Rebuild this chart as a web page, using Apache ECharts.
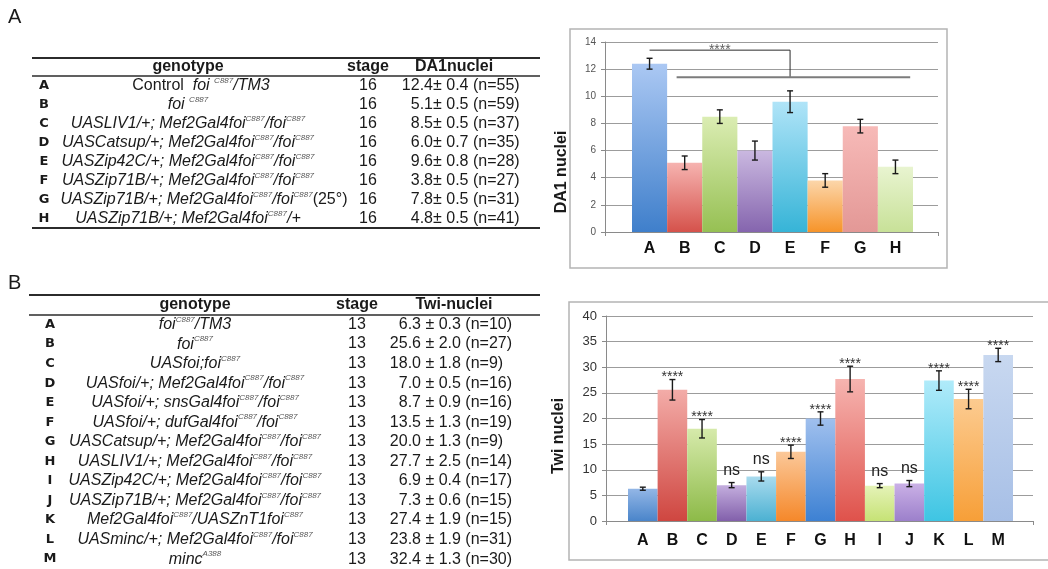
<!DOCTYPE html>
<html>
<head>
<meta charset="utf-8">
<script src="https://cdn.jsdelivr.net/npm/echarts@6/dist/echarts.min.js"></script>
<style>
html, body { margin: 0; padding: 0; background: #fff; }
#main { width: 1048px; height: 569px; }
</style>
</head>
<body>
<div id="main"></div>
<script>
// ---- panel A data ----
var lettersA = ['A', 'B', 'C', 'D', 'E', 'F', 'G', 'H'];
var genotypesA = [
  '~Control~  foi ^C887^/TM3',
  'foi ^C887^',
  'UASLIV1/+; Mef2Gal4foi^C887^/foi^C887^',
  'UASCatsup/+; Mef2Gal4foi^C887^/foi^C887^',
  'UASZip42C/+; Mef2Gal4foi^C887^/foi^C887^',
  'UASZip71B/+; Mef2Gal4foi^C887^/foi^C887^',
  'UASZip71B/+; Mef2Gal4foi^C887^/foi^C887^~(25°)~',
  'UASZip71B/+; Mef2Gal4foi^C887^/+'
];
var stageA = '16';
var meanA = [12.4, 5.1, 8.5, 6.0, 9.6, 3.8, 7.8, 4.8];
var semA = [0.4, 0.5, 0.5, 0.7, 0.8, 0.5, 0.5, 0.5];
var nA = [55, 59, 37, 35, 28, 27, 31, 41];
var bracketTopA = [[0, 13.4], [4, 13.4], [4, 11.4]];
var bracketLowA = [[0.77, 11.4], [7.42, 11.4]];
var starsA = [[2, 13.4]];

// ---- panel B data ----
var lettersB = ['A', 'B', 'C', 'D', 'E', 'F', 'G', 'H', 'I', 'J', 'K', 'L', 'M'];
var genotypesB = [
  'foi^C887^/TM3',
  'foi^C887^',
  'UASfoi;foi^C887^',
  'UASfoi/+; Mef2Gal4foi^C887^/foi^C887^',
  'UASfoi/+; snsGal4foi^C887^/foi^C887^',
  'UASfoi/+; dufGal4foi^C887^/foi^C887^',
  'UASCatsup/+; Mef2Gal4foi^C887^/foi^C887^',
  'UASLIV1/+; Mef2Gal4foi^C887^/foi^C887^',
  'UASZip42C/+; Mef2Gal4foi^C887^/foi^C887^',
  'UASZip71B/+; Mef2Gal4foi^C887^/foi^C887^',
  'Mef2Gal4foi^C887^/UASZnT1foi^C887^',
  'UASminc/+; Mef2Gal4foi^C887^/foi^C887^',
  'minc^A388^'
];
var stageB = '13';
var meanB = [6.3, 25.6, 18.0, 7.0, 8.7, 13.5, 20.0, 27.7, 6.9, 7.3, 27.4, 23.8, 32.4];
var semB = [0.3, 2.0, 1.8, 0.5, 0.9, 1.3, 1.3, 2.5, 0.4, 0.6, 1.9, 1.9, 1.3];
var nB = [10, 27, 9, 16, 16, 19, 9, 14, 17, 15, 15, 31, 30];
var sigB = ['', '****', '****', 'ns', 'ns', '****', '****', '****', 'ns', 'ns', '****', '****', '****'];

// bar colours (top, bottom of gradient)
var colorsA = [
  ['#abc8f3', '#3f7fcb'], ['#f6b3b0', '#d5524b'], ['#dbedb3', '#96c053'], ['#cab8e0', '#8565ae'],
  ['#b0e4f8', '#36b4d7'], ['#fcd6aa', '#f6942a'], ['#f7bab8', '#e39896'], ['#e8f4d0', '#c8e198']
];
var colorsB = [
  ['#93b6e6', '#4a85ca'], ['#f3aca8', '#cf4640'], ['#d6eaab', '#8dba48'], ['#c4aede', '#8260ab'],
  ['#a9dbee', '#4cb1d2'], ['#fbc899', '#f5882a'], ['#a0c0ee', '#3d81d3'], ['#f6b4b0', '#df524b'],
  ['#e5f3b8', '#c6e275'], ['#cab0e6', '#9c80cb'], ['#b0ebfa', '#3ec5e3'], ['#fccb90', '#f79f38'],
  ['#c8d8f0', '#a7bfe6']
];

var FONT = '"Liberation Sans", Arial, Helvetica, sans-serif';

function grad(c) {
  return new echarts.graphic.LinearGradient(0, 0, 0, 1, [
    { offset: 0, color: c[0] }, { offset: 1, color: c[1] }
  ]);
}

// ^..^ superscript, ~..~ upright, rest italic
function richText(s) {
  return s.split(/(\^[^\^]*\^|~[^~]*~)/).filter(function (p) { return p; }).map(function (p) {
    if (p[0] === '^') return '{s|' + p.slice(1, -1) + '}';
    if (p[0] === '~') return '{n|' + p.slice(1, -1) + '}';
    return '{i|' + p + '}';
  }).join('');
}
var richStyles = {
  i: { fontFamily: FONT, fontSize: 16, fontStyle: 'italic', fill: '#1a1a1a', lineHeight: 18 },
  n: { fontFamily: FONT, fontSize: 16, fill: '#1a1a1a', lineHeight: 18 },
  s: { fontFamily: FONT, fontSize: 8, fontStyle: 'italic', fill: '#555', lineHeight: 10, verticalAlign: 'top' }
};

function txt(x, y, text, font, align, extra) {
  var el = { type: 'text', x: x, y: y, silent: true,
    style: { text: text, font: font, fill: '#1a1a1a', align: align || 'center', verticalAlign: 'middle' } };
  if (extra) for (var k in extra) el[k] = extra[k];
  return el;
}

function table(t) {
  var els = [];
  t.lines.forEach(function (l) {
    els.push({ type: 'line', silent: true, shape: { x1: t.x1, y1: l[0], x2: t.x2, y2: l[0] },
      style: { stroke: '#2b2b2b', lineWidth: l[1] } });
  });
  els.push(txt(t.genoX, t.headY, 'genotype', 'bold 16px ' + FONT));
  els.push(txt(t.stageX, t.headY, 'stage', 'bold 16px ' + FONT));
  els.push(txt(t.valHeadX, t.headY, t.valHead, 'bold 16px ' + FONT));
  t.letters.forEach(function (L, i) {
    var y = t.rowY + i * t.rowStep;
    els.push(txt(t.letterX, y, L, 'bold 13px "DejaVu Sans", Verdana, sans-serif'));
    els.push({ type: 'text', x: t.genoX + (t.genoShift ? t.genoShift[i] : 0), y: y, silent: true,
      style: { text: richText(t.geno[i]), rich: richStyles, align: 'center', verticalAlign: 'middle' } });
    els.push(txt(t.stageX, y, t.stage, '16px ' + FONT));
    els.push(txt(t.meanX, y, t.mean[i].toFixed(1), '16px ' + FONT, 'right'));
    els.push(txt(t.meanX, y, t.pm + t.sem[i].toFixed(1) + ' (n=' + t.n[i] + ')', '16px ' + FONT, 'left'));
  });
  return els;
}

function errRender(sigs) {
  return function (params, api) {
    var x = api.value(0), m = api.value(1), e = api.value(2);
    var hi = api.coord([x, m + e]), lo = api.coord([x, m - e]);
    var c = 3, st = { stroke: '#1a1a1a', lineWidth: 1.4 };
    var kids = [
      { type: 'line', shape: { x1: hi[0], y1: hi[1], x2: lo[0], y2: lo[1] }, style: st },
      { type: 'line', shape: { x1: hi[0] - c, y1: hi[1], x2: hi[0] + c, y2: hi[1] }, style: st },
      { type: 'line', shape: { x1: lo[0] - c, y1: lo[1], x2: lo[0] + c, y2: lo[1] }, style: st }
    ];
    var s = sigs ? sigs[params.dataIndex] : '';
    if (s === 'ns') {
      kids.push({ type: 'text', style: { text: s, x: hi[0], y: hi[1] - 12, align: 'center', verticalAlign: 'middle',
        fontSize: 16, fontFamily: FONT, fill: '#222' } });
    } else if (s) {
      kids.push({ type: 'text', style: { text: s, x: hi[0], y: hi[1] - 2, align: 'center', verticalAlign: 'middle',
        fontSize: 14, fontFamily: FONT, fill: '#333' } });
    }
    return { type: 'group', children: kids };
  };
}

var axisGray = '#8a8a8a';
function frameX(grid) {
  return { gridIndex: grid, type: 'value', min: 0, max: 1, interval: 1,
    axisLine: { show: true, lineStyle: { color: axisGray } },
    axisTick: { show: true, length: 4, lineStyle: { color: axisGray } },
    axisLabel: { show: false }, splitLine: { show: false } };
}
function frameY(grid, max, step, fs, col) {
  return { gridIndex: grid, type: 'value', min: 0, max: max, interval: step,
    axisLine: { show: true, lineStyle: { color: axisGray } },
    axisTick: { show: true, length: 4, lineStyle: { color: axisGray } },
    axisLabel: { fontSize: fs, color: col, fontFamily: FONT, margin: 9 },
    splitLine: { lineStyle: { color: '#9c9c9c', width: 1 } } };
}
function catX(grid, data, margin) {
  return { gridIndex: grid, type: 'category', data: data,
    axisLine: { show: false }, axisTick: { show: false }, splitLine: { show: false },
    axisLabel: { margin: margin, fontSize: 16, fontWeight: 'bold', color: '#111', fontFamily: FONT } };
}

var graphics = [].concat(
  [
    txt(8, 17, 'A', '20px ' + FONT, 'left'),
    txt(8, 283, 'B', '20px ' + FONT, 'left'),
    { type: 'rect', silent: true, shape: { x: 570, y: 29, width: 377, height: 239 },
      style: { fill: 'none', stroke: '#b4b4b4', lineWidth: 1.5 } },
    { type: 'rect', silent: true, shape: { x: 569, y: 302, width: 500, height: 258 },
      style: { fill: 'none', stroke: '#b4b4b4', lineWidth: 1.5 } },
    txt(562, 172, 'DA1 nuclei', 'bold 16px ' + FONT, 'center', { rotation: Math.PI / 2 }),
    txt(559, 436, 'Twi nuclei', 'bold 16px ' + FONT, 'center', { rotation: Math.PI / 2 })
  ],
  table({ x1: 32, x2: 540, lines: [[58, 2], [76, 1.5], [228, 2]], headY: 66.5,
    rowY: 86, rowStep: 18.9, letterX: 44, genoX: 188, genoShift: [13, 0, 0, 0, 0, 0, 16, 0],
    stageX: 368, valHeadX: 454, valHead: 'DA1nuclei',
    meanX: 433, pm: '± ', letters: lettersA, geno: genotypesA, stage: stageA, mean: meanA, sem: semA, n: nA }),
  table({ x1: 29, x2: 540, lines: [[295, 2], [315, 1.5]], headY: 305,
    rowY: 324.5, rowStep: 19.55, letterX: 50, genoX: 195, stageX: 357, valHeadX: 454, valHead: 'Twi-nuclei',
    meanX: 421, pm: ' ± ', letters: lettersB, geno: genotypesB, stage: stageB, mean: meanB, sem: semB, n: nB })
);

var chart = echarts.init(document.getElementById('main'));
chart.setOption({
  backgroundColor: '#fff',
  animation: false,
  graphic: graphics,
  grid: [
    { left: 605, top: 42, width: 333, height: 190, containLabel: false, outerBoundsMode: 'none' },
    { left: 632, top: 42, width: 281, height: 190, containLabel: false, outerBoundsMode: 'none' },
    { left: 606, top: 316, width: 427, height: 205, containLabel: false, outerBoundsMode: 'none' },
    { left: 628, top: 316, width: 385, height: 205, containLabel: false, outerBoundsMode: 'none' }
  ],
  xAxis: [
    frameX(0),
    catX(1, lettersA, 9),
    { gridIndex: 1, type: 'value', min: -0.5, max: 7.5, show: false },
    frameX(2),
    catX(3, lettersB, 12)
  ],
  yAxis: [
    frameY(0, 14, 2, 10, '#555'),
    { gridIndex: 1, type: 'value', min: 0, max: 14, show: false },
    frameY(2, 40, 5, 13, '#333'),
    { gridIndex: 3, type: 'value', min: 0, max: 40, show: false }
  ],
  series: [
    { type: 'bar', xAxisIndex: 1, yAxisIndex: 1, barCategoryGap: '0%', silent: true,
      data: meanA.map(function (v, i) { return { value: v, itemStyle: { color: grad(colorsA[i]) } }; }) },
    { type: 'custom', xAxisIndex: 1, yAxisIndex: 1, z: 5, silent: true, renderItem: errRender(null),
      data: meanA.map(function (v, i) { return [i, v, semA[i]]; }) },
    { type: 'line', xAxisIndex: 2, yAxisIndex: 1, data: bracketTopA, symbol: 'none', silent: true, z: 6,
      lineStyle: { color: '#2a2a2a', width: 1 } },
    { type: 'line', xAxisIndex: 2, yAxisIndex: 1, data: bracketLowA, symbol: 'none', silent: true, z: 6,
      lineStyle: { color: '#7c7c7c', width: 2 } },
    { type: 'scatter', xAxisIndex: 2, yAxisIndex: 1, data: starsA, symbolSize: 0, silent: true, z: 6,
      label: { show: true, position: 'inside', formatter: '****', fontSize: 14, color: '#333', fontFamily: FONT } },
    { type: 'bar', xAxisIndex: 4, yAxisIndex: 3, barCategoryGap: '0%', silent: true,
      data: meanB.map(function (v, i) { return { value: v, itemStyle: { color: grad(colorsB[i]) } }; }) },
    { type: 'custom', xAxisIndex: 4, yAxisIndex: 3, z: 5, silent: true, renderItem: errRender(sigB),
      data: meanB.map(function (v, i) { return [i, v, semB[i]]; }) }
  ]
});
</script>
</body>
</html>
